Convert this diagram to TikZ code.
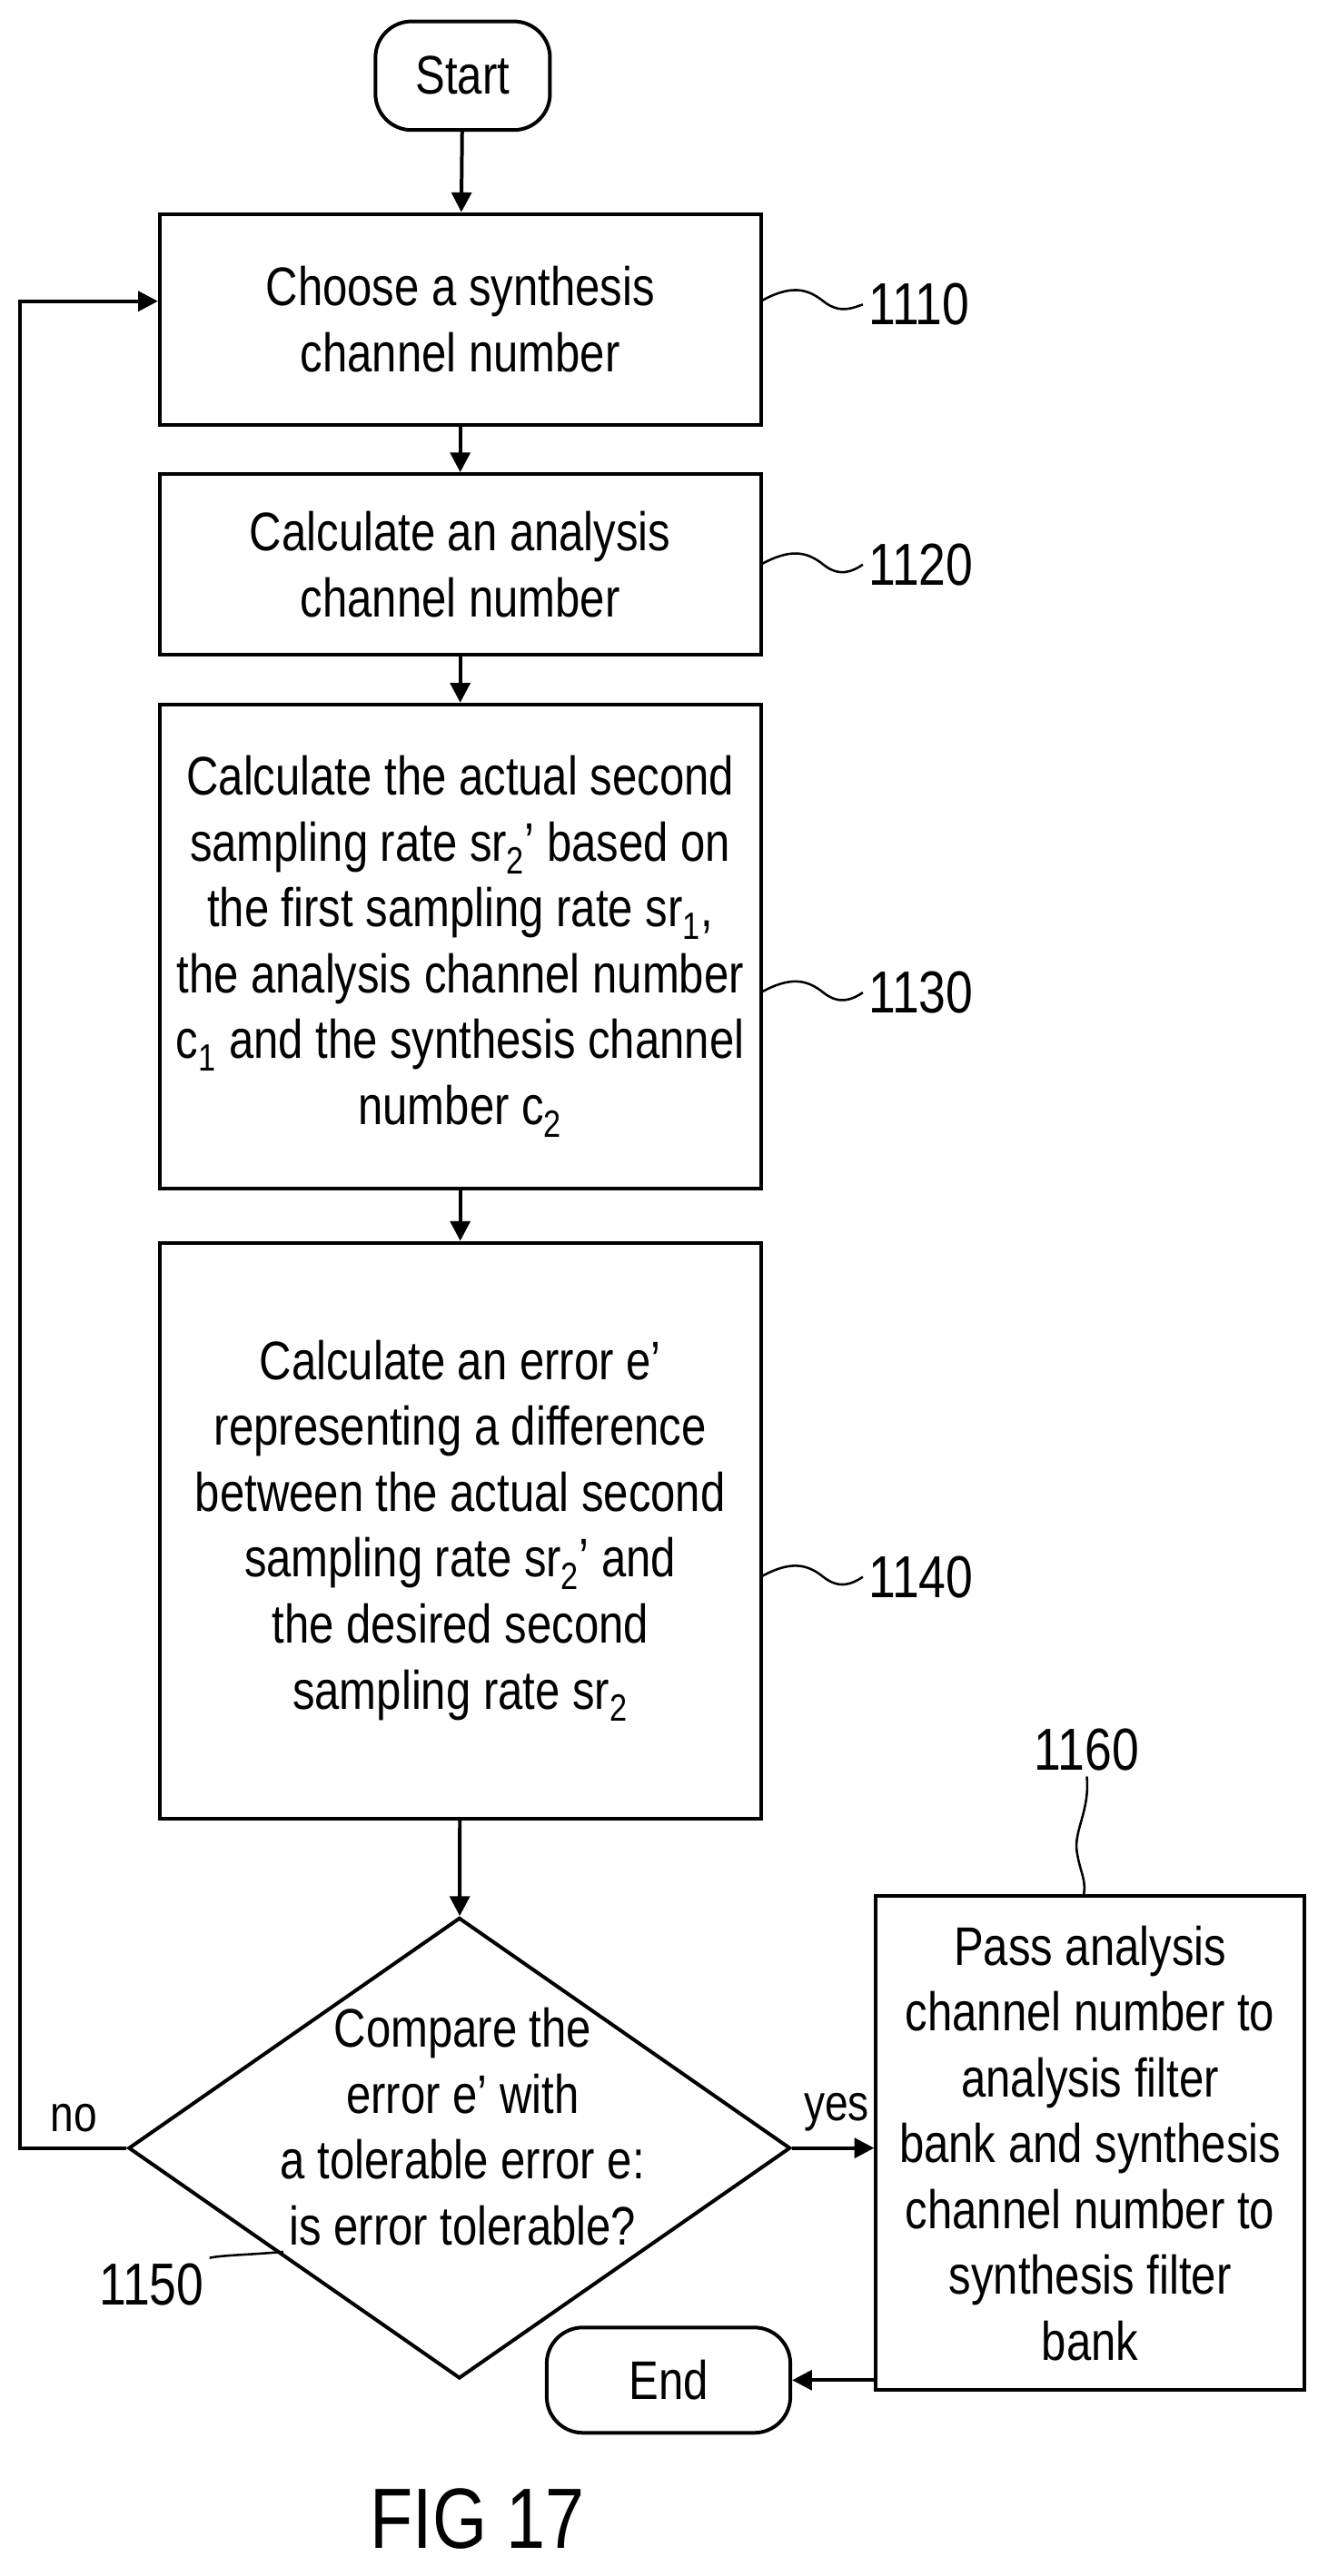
\documentclass[tikz,border=0pt]{standalone}
\usepackage{fontspec}
\setmainfont{Liberation Sans}[FakeStretch=0.82]
\usetikzlibrary{shapes.geometric,arrows.meta}
\begin{document}
\begin{tikzpicture}[x=1pt,y=-1pt,
  box/.style={draw,line width=2.2pt,minimum width=365pt,align=center,font=\fontsize{33}{40}\selectfont,inner sep=0pt},
  term/.style={draw,line width=2.2pt,rounded corners=22pt,font=\fontsize{33}{40}\selectfont,inner sep=0pt},
  arr/.style={line width=2.2pt,-{Triangle[length=12pt,width=12pt]}},
  sq/.style={line width=1.4pt},
  lab/.style={font=\fontsize{36}{40}\selectfont}]
\useasboundingbox (0,0) rectangle (800,1565);
\node[term,minimum width=106pt,minimum height=66pt] (start) at (281,46) {Start};
\node[box,minimum height=128pt] (b1) at (279.5,194) {Choose a synthesis\\channel number};
\node[box,minimum height=110pt] (b2) at (279.5,343) {Calculate an analysis\\channel number};
\node[box,minimum height=294pt] (b3) at (279.5,575) {Calculate the actual second\\sampling rate sr\textsubscript{2}’ based on\\the first sampling rate sr\textsubscript{1},\\the analysis channel number\\c\textsubscript{1} and the synthesis channel\\number c\textsubscript{2}};
\node[box,minimum height=350pt] (b4) at (279.5,930) {Calculate an error e’\\representing a difference\\between the actual second\\sampling rate sr\textsubscript{2}’ and\\the desired second\\sampling rate sr\textsubscript{2}};
\node[draw,line width=2.2pt,diamond,minimum width=402pt,minimum height=280pt,inner sep=0pt,aspect=1.44] (d) at (279,1305) {};
\node[align=center,font=\fontsize{33}{40}\selectfont] (dt) at (281,1292) {Compare the\\error e’ with\\a tolerable error e:\\is error tolerable?};
\node[box,minimum width=260pt,minimum height=300pt] (b6) at (662,1302) {Pass analysis\\channel number to\\analysis filter\\bank and synthesis\\channel number to\\synthesis filter\\bank};
\node[term,minimum width=148pt,minimum height=64pt] (end) at (406,1446) {End};
\draw[arr] (start) -- (b1);
\draw[arr] (b1) -- (b2);
\draw[arr] (b2) -- (b3);
\draw[arr] (b3) -- (b4);
\draw[arr] (b4) -- (d);
\coordinate (l1) at (12,1305); \coordinate (l2) at (12,183);
\draw[arr] (d.west) -- (l1) -- (l2) -- (l2 -| b1.west);
\node[lab,font=\fontsize{31}{36}\selectfont] (no) at (45,1287) {no};
\draw[arr] (d.east) -- (d.east -| b6.west);
\node[lab,font=\fontsize{31}{36}\selectfont] (yes) at (508,1283) {yes};
\draw[arr] (b6.west |- end.east) -- (end.east);
% reference labels
\node[lab,anchor=west] (n1) at (524,185) {1110};
\node[lab,anchor=west] (n2) at (524,343) {1120};
\node[lab,anchor=west] (n3) at (524,603) {1130};
\node[lab,anchor=west] (n4) at (524,958) {1140};
\node[lab] (n6) at (660,1063) {1160};
\node[lab] (n5) at (92,1388) {1150};
\foreach \n/\y in {n1/183,n2/343,n3/603,n4/958}{
  \draw[sq] (462,\y) .. controls (480,\y-10) and (490,\y-8) .. (500,\y) .. controls (510,\y+8) and (518,\y+4) .. (\n.west);}
\draw[sq] (n6.south) .. controls (662,1100) and (652,1112) .. (654,1125) .. controls (656,1138) and (660,1142) .. (658,1152);
\draw[sq] (n5.north east) .. controls (135,1370) and (150,1370) .. (172,1368);
\node[font=\fontsize{52}{56}\selectfont] (fig) at (290,1530) {FIG 17};
\end{tikzpicture}
\end{document}
